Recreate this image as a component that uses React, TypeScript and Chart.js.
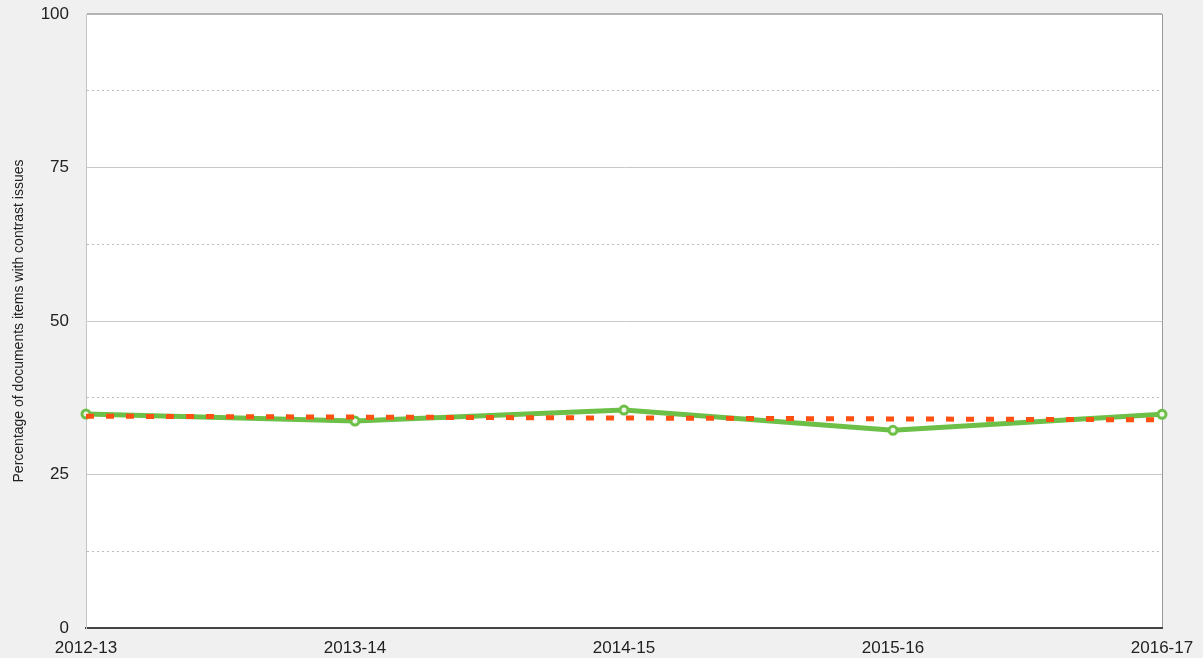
import React, { useEffect, useRef } from "react";
import { Chart, registerables } from "chart.js";

Chart.register(...registerables);

const categories = ["2012-13", "2013-14", "2014-15", "2015-16", "2016-17"];
const contrastIssues = [34.85, 33.7, 35.5, 32.2, 34.8];
const trendValues = [34.5, 34.35, 34.2, 34.05, 33.9];
const yAxisTitle = "Percentage of documents items with contrast issues";

const plotBackground = {
  id: "plotBackground",
  beforeDraw(chart: any) {
    const { ctx, chartArea } = chart;
    ctx.save();
    ctx.fillStyle = "#ffffff";
    ctx.fillRect(chartArea.left, chartArea.top, chartArea.right - chartArea.left, chartArea.bottom - chartArea.top);
    ctx.restore();
  },
};

export default function App() {
  const ref = useRef<HTMLCanvasElement | null>(null);

  useEffect(() => {
    document.body.style.margin = "0";
    const chart = new Chart(ref.current as HTMLCanvasElement, {
      type: "line",
      data: {
        labels: categories,
        datasets: [
          {
            label: "Trend",
            data: trendValues,
            borderColor: "#ff5011",
            borderWidth: 5,
            borderDash: [8, 12],
            pointRadius: 0,
            fill: false,
            tension: 0,
            clip: false,
          },
          {
            label: "Contrast issues",
            data: contrastIssues,
            borderColor: "#6cbf47",
            borderWidth: 5,
            pointRadius: 4,
            pointBorderWidth: 3,
            pointBackgroundColor: "#eef7e9",
            pointBorderColor: "#6cbf47",
            fill: false,
            tension: 0,
            clip: false,
          },
        ],
      },
      options: {
        animation: false,
        responsive: false,
        maintainAspectRatio: false,
        layout: { padding: { top: 14, right: 41, left: 0, bottom: 0 } },
        plugins: { legend: { display: false }, tooltip: { enabled: false } },
        scales: {
          x: {
            offset: false,
            afterFit(scale: any) {
              scale.height = 30;
              scale.paddingLeft = 0;
              scale.paddingRight = 0;
            },
            grid: {
              drawTicks: false,
              color: (c: any) => (c.index === categories.length - 1 ? "#9a9a9a" : "rgba(0,0,0,0)"),
              lineWidth: 1,
            },
            border: { color: "#444444", width: 2 },
            ticks: {
              autoSkip: false,
              maxRotation: 0,
              padding: 10,
              color: "#222222",
              font: { family: "'Liberation Sans', Arial, sans-serif", size: 17 },
            },
          },
          y: {
            min: 0,
            max: 100,
            afterFit(scale: any) {
              scale.width = 86;
              scale.paddingTop = 0;
              scale.paddingBottom = 0;
            },
            ticks: {
              stepSize: 12.5,
              padding: 17,
              color: "#222222",
              font: { family: "'Liberation Sans', Arial, sans-serif", size: 17 },
              callback: (v: any) => (Number(v) % 25 === 0 ? String(v) : ""),
            },
            grid: {
              drawTicks: false,
              color: (c: any) => {
                const v = c.tick ? c.tick.value : 0;
                if (v === 100) return "#b4b4b4";
                return v % 25 === 0 ? "#c8c8c8" : "#bdbdbd";
              },
              lineWidth: (c: any) => (c.tick && c.tick.value === 100 ? 2 : 1),
            },
            border: {
              color: "#c4c4c4",
              width: 1,
              dash: (c: any) => (c.tick && c.tick.value % 25 !== 0 ? [2, 3] : []),
            },
            title: {
              display: true,
              text: yAxisTitle,
              color: "#222222",
              padding: { top: 11, bottom: 0 },
              font: { family: "'Liberation Sans', Arial, sans-serif", size: 14 },
            },
          },
        },
      },
      plugins: [plotBackground],
    } as any);
    return () => chart.destroy();
  }, []);

  return (
    <div style={{ width: 1203, height: 658, background: "#eff0ef" }}>
      <canvas ref={ref} width={1203} height={658} style={{ display: "block" }} />
    </div>
  );
}
